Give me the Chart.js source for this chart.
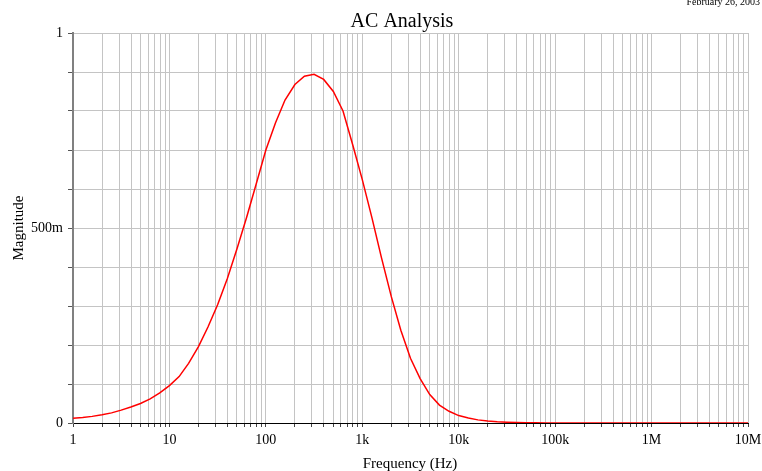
<!DOCTYPE html>
<html>
<head>
<meta charset="utf-8">
<script src="https://cdn.jsdelivr.net/npm/chart.js@4/dist/chart.umd.min.js"></script>
<style>
  html, body { margin: 0; padding: 0; background: #fff; }
</style>
</head>
<body>
<canvas id="ac-chart" width="762" height="471"></canvas>
<script>
// Sweep points, 10 per decade (Hz)
const freqs = [
  1, 1.26, 1.58, 2, 2.51, 3.16, 3.98, 5.01, 6.31, 7.94,
  10, 12.6, 15.8, 20, 25.1, 31.6, 39.8, 50.1, 63.1, 79.4,
  100, 126, 158, 200, 251, 316, 398, 501, 631, 794,
  1e3, 1.26e3, 1.58e3, 2e3, 2.51e3, 3.16e3, 3.98e3, 5.01e3, 6.31e3, 7.94e3,
  1e4, 1.26e4, 1.58e4, 2e4, 2.51e4, 3.16e4, 3.98e4, 5.01e4, 6.31e4, 7.94e4,
  1e5, 1.26e5, 1.58e5, 2e5, 2.51e5, 3.16e5, 3.98e5, 5.01e5, 6.31e5, 7.94e5,
  1e6, 1.26e6, 1.58e6, 2e6, 2.51e6, 3.16e6, 3.98e6, 5.01e6, 6.31e6, 7.94e6,
  1e7,
];

// Magnitude
const magnitude = [
  0.012, 0.014, 0.017, 0.021, 0.026, 0.033, 0.041, 0.050, 0.062, 0.077,
  0.096, 0.119, 0.153, 0.196, 0.246, 0.303, 0.370, 0.446, 0.527, 0.613,
  0.700, 0.770, 0.828, 0.868, 0.889, 0.894, 0.881, 0.850, 0.800, 0.714,
  0.624, 0.526, 0.424, 0.324, 0.238, 0.166, 0.114, 0.073, 0.046, 0.030,
  0.019, 0.013, 0.008, 0.005, 0.003, 0.002, 0.0013, 0.0008, 0.0005, 0.0003,
  0.0002, 0, 0, 0, 0, 0, 0, 0, 0, 0,
  0, 0, 0, 0, 0, 0, 0, 0, 0, 0,
  0,
];

const decadeTicks = [1, 10, 100, 1e3, 1e4, 1e5, 1e6, 1e7];
const decadeLabels = ['1', '10', '100', '1k', '10k', '100k', '1M', '10M'];
const minorSteps = [2, 3, 4, 5, 6, 7, 8, 9];

const yLabelValues = [0, 0.5, 1];
const yLabels = ['0', '500m', '1'];

const FONT = '"Liberation Serif", "Times New Roman", serif';
const GRID = '#c4c4c4';

// titles and the date stamp drawn as plain text on the canvas
const textPlugin = {
  id: 'texts',
  afterDraw(chart) {
    const ctx = chart.ctx;
    ctx.save();
    ctx.fillStyle = '#000';
    ctx.textBaseline = 'alphabetic';

    ctx.font = '20px ' + FONT;
    ctx.textAlign = 'center';
    ctx.fillText('AC Analysis', 402, 27);

    ctx.font = '15px ' + FONT;
    ctx.fillText('Frequency (Hz)', 410, 468);

    ctx.font = '10px ' + FONT;
    ctx.textAlign = 'right';
    ctx.fillText('February 26, 2003', 760, 5);

    ctx.translate(23, 228);
    ctx.rotate(-Math.PI / 2);
    ctx.font = '15px ' + FONT;
    ctx.textAlign = 'center';
    ctx.fillText('Magnitude', 0, 0);
    ctx.restore();
  },
};

new Chart(document.getElementById('ac-chart'), {
  type: 'line',
  data: {
    datasets: [{
      data: freqs.map((f, i) => ({ x: f, y: magnitude[i] })),
      borderColor: '#ff0000',
      borderWidth: 1.5,
      pointRadius: 0,
      tension: 0,
      fill: false,
    }],
  },
  options: {
    responsive: false,
    animation: false,
    devicePixelRatio: 1,
    layout: { padding: { left: 0, top: 33, right: 14, bottom: 0 } },
    plugins: {
      legend: { display: false },
      tooltip: { enabled: false },
    },
    scales: {
      x: {
        type: 'logarithmic',
        min: 1,
        max: 1e7,
        afterBuildTicks: (scale) => {
          const ticks = [];
          decadeTicks.forEach((d, i) => {
            ticks.push({ value: d });
            if (i < decadeTicks.length - 1) minorSteps.forEach(m => ticks.push({ value: d * m }));
          });
          scale.ticks = ticks;
        },
        afterFit: (scale) => {
          scale.height = 48;
          scale.paddingLeft = 0;
          scale.paddingRight = 0;
        },
        ticks: {
          autoSkip: false,
          maxRotation: 0,
          color: '#000',
          padding: 5,
          font: { family: FONT, size: 14 },
          callback: (v) => {
            const i = decadeTicks.findIndex(d => Math.abs(d - v) < d * 1e-6);
            return i >= 0 ? decadeLabels[i] : '';
          },
        },
        grid: { color: GRID, lineWidth: 1, tickLength: 4, tickColor: '#444' },
        border: { color: '#000', width: 1 },
      },
      y: {
        min: 0,
        max: 1,
        afterFit: (scale) => {
          scale.width = 73;
          scale.paddingTop = 0;
          scale.paddingBottom = 0;
        },
        ticks: {
          stepSize: 0.1,
          color: '#000',
          padding: 5,
          font: { family: FONT, size: 14 },
          callback: (v) => {
            const i = yLabelValues.findIndex(y => Math.abs(y - v) < 1e-6);
            return i >= 0 ? yLabels[i] : '';
          },
        },
        grid: { color: GRID, lineWidth: 1, tickLength: 5, tickColor: '#555' },
        border: { color: '#808080', width: 2 },
      },
    },
  },
  plugins: [textPlugin],
});
</script>
</body>
</html>
